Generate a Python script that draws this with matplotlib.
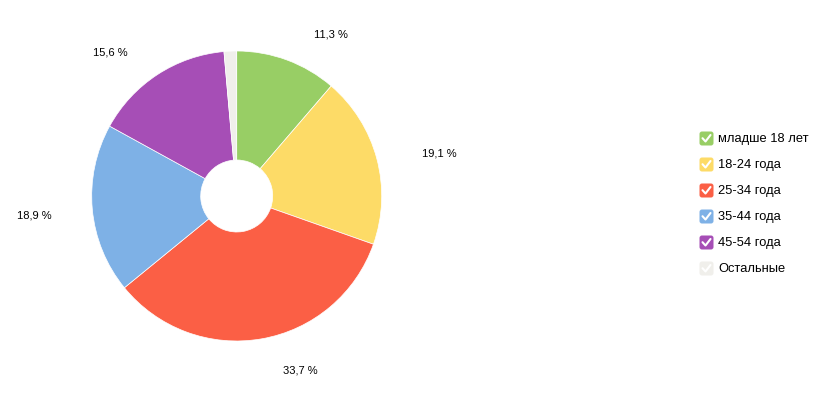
import matplotlib
matplotlib.use("Agg")
import matplotlib.pyplot as plt
from matplotlib.patches import FancyBboxPatch
import numpy as np

plt.rcParams['font.family'] = ['Liberation Sans', 'DejaVu Sans']

categories = ["младше 18 лет", "18-24 года", "25-34 года", "35-44 года", "45-54 года", "Остальные"]
values = [11.3, 19.1, 33.7, 18.9, 15.6, 1.4]
labels = ["11,3 %", "19,1 %", "33,7 %", "18,9 %", "15,6 %", ""]
colors = ["#98ce65", "#fddb67", "#fb5f45", "#7eb1e6", "#a64eb6", "#f0efeb"]

# label placement (radius, angle offset in degrees) relative to each wedge's mid-angle
label_layout = [(1.29, -10.0), (1.43, -3.0), (1.28, 10.0), (1.40, 0.2), (1.32, 8.2), (0, 0)]

W, H = 823, 395
fig = plt.figure(figsize=(W / 100, H / 100), dpi=100)

# pie axes: center at (236.7, 196) px, radius 145 px
R = 145.0
cx, cy = 236.7, 196.0
xl, yl = 1.6, 1.3
ax = fig.add_axes([(cx - xl * R) / W, (H - cy - yl * R) / H, 2 * xl * R / W, 2 * yl * R / H])
wedges, _ = ax.pie(values, colors=colors, startangle=90, counterclock=False,
                   radius=1.0, wedgeprops=dict(width=(R - 36) / R, edgecolor="white", linewidth=0.5))
ax.set_xlim(-xl, xl)
ax.set_ylim(-yl, yl)
ax.set_aspect("auto")
ax.axis("off")

total = sum(values)
cum = 0.0
for v, lab, (r, off) in zip(values, labels, label_layout):
    mid = 90 - (cum + v / 2) / total * 360
    cum += v
    if not lab:
        continue
    a = np.deg2rad(mid + off)
    ax.text(r * np.cos(a), r * np.sin(a), lab, ha="center", va="center",
            fontsize=8, color="#000000")

# legend drawn in pixel coordinates
lax = fig.add_axes([0, 0, 1, 1])
lax.set_xlim(0, W)
lax.set_ylim(H, 0)
lax.axis("off")
y0, dy = 138.5, 26.0
for i, (cat, col) in enumerate(zip(categories, colors)):
    y = y0 + i * dy
    box = FancyBboxPatch((699.5, y - 7), 14, 14, boxstyle="round,pad=0,rounding_size=2.5",
                         facecolor=col, edgecolor="none")
    lax.add_patch(box)
    lax.plot([702.5, 705.5, 710.5], [y - 0.3, y + 3.0, y - 3.5], color="white",
             lw=1.5, solid_capstyle="round", solid_joinstyle="round")
    lax.text(718, y + 0.5, cat, ha="left", va="center", fontsize=9.3, color="#000000")

fig.savefig("out.png", dpi=100, facecolor="white")
